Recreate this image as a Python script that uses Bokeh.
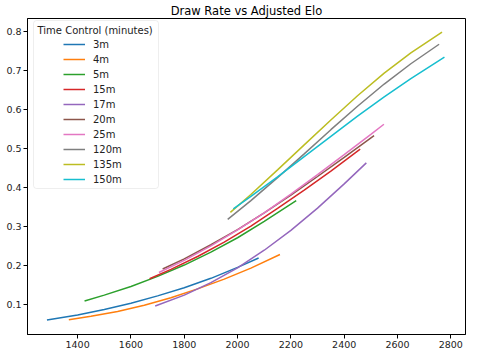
from bokeh.plotting import figure
from bokeh.models import Range1d, FixedTicker, Legend, LegendItem, BoxAnnotation, Label
from bokeh.embed import file_html
from bokeh.resources import INLINE

# ---- data ----
series_names = ["3m", "4m", "5m", "15m", "17m", "20m", "25m", "120m", "135m", "150m"]
colors = ["#1f77b4", "#ff7f0e", "#2ca02c", "#d62728", "#9467bd",
          "#8c564b", "#e377c2", "#7f7f7f", "#bcbd22", "#17becf"]

elo_3m = [1285, 1400, 1500, 1600, 1700, 1800, 1900, 2000, 2079]
draw_3m = [0.060, 0.073, 0.087, 0.103, 0.122, 0.143, 0.167, 0.195, 0.219]
elo_4m = [1367, 1450, 1550, 1650, 1750, 1850, 1950, 2050, 2159]
draw_4m = [0.061, 0.070, 0.082, 0.098, 0.117, 0.140, 0.165, 0.193, 0.228]
elo_5m = [1426, 1500, 1600, 1700, 1800, 1900, 2000, 2100, 2220]
draw_5m = [0.109, 0.124, 0.146, 0.172, 0.201, 0.234, 0.271, 0.313, 0.366]
elo_15m = [1670, 1750, 1850, 1950, 2050, 2150, 2250, 2350, 2460]
draw_15m = [0.166, 0.190, 0.223, 0.260, 0.301, 0.346, 0.393, 0.442, 0.498]
elo_17m = [1691, 1800, 1900, 2000, 2100, 2200, 2300, 2400, 2483]
draw_17m = [0.096, 0.124, 0.156, 0.194, 0.239, 0.290, 0.347, 0.409, 0.463]
elo_20m = [1719, 1800, 1900, 2000, 2100, 2200, 2300, 2400, 2512]
draw_20m = [0.191, 0.217, 0.253, 0.292, 0.335, 0.380, 0.428, 0.477, 0.533]
elo_25m = [1705, 1800, 1900, 2000, 2100, 2200, 2300, 2400, 2500, 2549]
draw_25m = [0.182, 0.213, 0.250, 0.291, 0.335, 0.383, 0.433, 0.484, 0.536, 0.562]
elo_120m = [1963, 2050, 2150, 2250, 2350, 2450, 2550, 2650, 2756]
draw_120m = [0.318, 0.366, 0.425, 0.486, 0.548, 0.608, 0.665, 0.717, 0.767]
elo_135m = [1973, 2050, 2150, 2250, 2350, 2450, 2550, 2650, 2767]
draw_135m = [0.336, 0.382, 0.445, 0.509, 0.573, 0.635, 0.693, 0.745, 0.798]
elo_150m = [1984, 2050, 2150, 2250, 2350, 2450, 2550, 2650, 2776]
draw_150m = [0.345, 0.377, 0.427, 0.479, 0.531, 0.583, 0.632, 0.679, 0.734]

x_ticks = [1400, 1600, 1800, 2000, 2200, 2400, 2600, 2800]
x_tick_labels = ["1400", "1600", "1800", "2000", "2200", "2400", "2600", "2800"]
y_ticks = [0.1, 0.2, 0.3, 0.4, 0.5, 0.6, 0.7, 0.8]
y_tick_labels = ["0.1", "0.2", "0.3", "0.4", "0.5", "0.6", "0.7", "0.8"]

title_text = "Draw Rate vs Adjusted Elo"
legend_title = "Time Control (minutes)"

series = [
    (elo_3m, draw_3m), (elo_4m, draw_4m), (elo_5m, draw_5m),
    (elo_15m, draw_15m), (elo_17m, draw_17m), (elo_20m, draw_20m),
    (elo_25m, draw_25m), (elo_120m, draw_120m), (elo_135m, draw_135m),
    (elo_150m, draw_150m),
]

FONT = "DejaVu Sans"

p = figure(width=467, height=350, output_backend="svg", toolbar_location=None,
           x_range=Range1d(1212, 2855), y_range=Range1d(0.023, 0.833),
           title=title_text, min_border_left=27, min_border_right=2,
           min_border_top=14, min_border_bottom=16)
p.background_fill_color = "white"
p.border_fill_color = "white"
p.outline_line_color = "black"
p.outline_line_width = 1
p.xgrid.visible = False
p.ygrid.visible = False

p.title.align = "center"
p.title.text_font = FONT
p.title.text_font_style = "normal"
p.title.text_font_size = "11.5px"
p.title.text_color = "black"
p.title.standoff = 2

for ax, ticks, labels in [(p.xaxis[0], x_ticks, x_tick_labels),
                          (p.yaxis[0], y_ticks, y_tick_labels)]:
    ax.ticker = FixedTicker(ticks=ticks)
    ax.major_label_overrides = {t: l for t, l in zip(ticks, labels)}
    ax.minor_tick_line_color = None
    ax.major_tick_in = 0
    ax.major_tick_out = 4
    ax.major_tick_line_color = "black"
    ax.axis_line_color = "black"
    ax.major_label_text_font = FONT
    ax.major_label_text_font_size = "9.5px"
    ax.major_label_text_color = "#222222"
    ax.major_label_standoff = 2

renderers = []
for (xs, ys), c in zip(series, colors):
    r = p.line(xs, ys, line_color=c, line_width=1.5)
    renderers.append(r)

# legend frame (screen units relative to plot frame, bottom-left origin)
box = BoxAnnotation(left=6, right=131, top=314, bottom=146,
                    left_units="screen", right_units="screen",
                    top_units="screen", bottom_units="screen",
                    fill_color="white", fill_alpha=0.85,
                    line_color="#c8c8c8", line_width=1, border_radius=3)
p.add_layout(box)

lbl = Label(x=10, y=304, x_units="screen", y_units="screen", text=legend_title,
            text_font=FONT, text_font_size="10px", text_color="#222222",
            text_baseline="middle", text_align="left")
p.add_layout(lbl)

legend = Legend(items=[LegendItem(label=n, renderers=[r]) for n, r in zip(series_names, renderers)],
                location=(36, 149), padding=0, spacing=3, margin=0,
                glyph_width=22, glyph_height=12, label_height=12, label_standoff=8,
                label_text_font=FONT, label_text_font_size="10px", label_text_color="#222222",
                border_line_color=None, background_fill_alpha=0)
p.add_layout(legend)

open("out.html", "w").write(file_html(p, INLINE))
